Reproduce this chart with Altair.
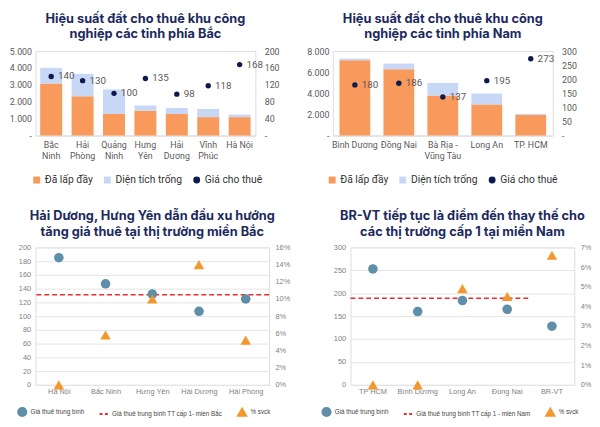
import altair as alt
import pandas as pd

# ---------------- data ----------------
north_cats = ["Bắc\nNinh", "Hải\nPhòng", "Quảng\nNinh", "Hưng\nYên", "Hải\nDương", "Vĩnh\nPhúc", "Hà Nội"]
north_filled = [3080, 2330, 1280, 1470, 1280, 1090, 1090]
north_vacant = [930, 1320, 1450, 310, 350, 480, 150]
north_price = [140, 130, 100, 135, 98, 118, 168]

south_cats = ["Bình Dương", "Đồng Nai", "Bà Rịa -\nVũng Tàu", "Long An", "TP. HCM"]
south_filled = [7130, 6290, 3790, 2950, 1960]
south_vacant = [160, 530, 1190, 1030, 100]
south_price = [180, 186, 137, 195, 273]

bar_series = ["Đã lấp đầy", "Diện tích trống", "Giá cho thuê"]

n_cats = ["Hà Nội", "Bắc Ninh", "Hưng Yên", "Hải Dương", "Hải Phòng"]
n_avg = [185, 147, 132, 107, 125]
n_pct = [0.0, 0.058, 0.10, 0.14, 0.052]
n_tier1 = 131

s_cats = ["TP HCM", "Bình Dương", "Long An", "Đồng Nai", "BR-VT"]
s_avg = [253, 160, 184, 165, 128]
s_pct = [0.0, 0.0, 0.049, 0.045, 0.066]
s_tier1 = 189
s_tier1_span = ["TP HCM", "Đồng Nai"]

# ---------------- style ----------------
ORANGE = "#F89A5C"
LBLUE = "#C7D7F6"
NAVY = "#0E1A4F"
TITLE_C = "#1C2A5E"
STEEL = "#5E8EA8"
TRI = "#F2982E"
RED = "#EE2A2A"
GRAY = "#595959"
LGRAY = "#7F7F7F"
FONT = "Inter"
LFONT = "Roboto"
AFONT = "Liberation Sans"


def title(lines, offset):
    return alt.TitleParams(lines, fontSize=13, fontWeight="bold", color=TITLE_C,
                           font=FONT, anchor="middle", lineHeight=16, offset=offset)


def top_panel(cats, filled, vacant, price, ymax, ystep, rmax, rstep, lines, w, h, lx):
    n = len(cats)
    bar_df = pd.DataFrame({
        "cat": cats * 2,
        "series": [bar_series[0]] * n + [bar_series[1]] * n,
        "value": filled + vacant,
        "ord": [0] * n + [1] * n,
    })
    dot_df = pd.DataFrame({"cat": cats, "series": bar_series[2], "price": price})
    leg = alt.Legend(orient="none", legendX=lx, legendY=h + 40, direction="horizontal", title=None,
                     labelFontSize=10.5, labelColor="#333333", labelFont=LFONT, labelOffset=3,
                     symbolSize=50, columnPadding=9)
    color = alt.Color("series:N", scale=alt.Scale(domain=bar_series, range=[ORANGE, LBLUE, NAVY]), legend=leg)
    shape = alt.Shape("series:N", scale=alt.Scale(domain=bar_series, range=["square", "square", "circle"]), legend=leg)
    x = alt.X("cat:N", sort=cats, title=None,
              scale=alt.Scale(domain=cats, paddingInner=0.3, paddingOuter=0.15),
              axis=alt.Axis(labelAngle=0, labelExpr="split(datum.label, '\\n')", labelFontSize=9,
                            labelColor=GRAY, labelFont=LFONT, ticks=False, domainColor="#D9D9D9",
                            labelPadding=5, labelLineHeight=11))
    bars = alt.Chart(bar_df).mark_bar().encode(
        x=x,
        y=alt.Y("value:Q", stack="zero", title=None,
                scale=alt.Scale(domain=[0, ymax]),
                axis=alt.Axis(values=list(range(0, ymax + 1, ystep)), grid=False, domain=False, ticks=False,
                              labelFontSize=9, labelColor=GRAY, labelFont=LFONT, labelPadding=4,
                              labelExpr="datum.value == 0 ? '-' : replace(format(datum.value, ','), ',', '.')")),
        color=color,
        order=alt.Order("ord:Q"),
    )
    yr = alt.Y("price:Q", title=None, scale=alt.Scale(domain=[0, rmax]),
               axis=alt.Axis(orient="right", values=list(range(0, rmax + 1, rstep)), grid=False, domain=False,
                             ticks=False, labelFontSize=9, labelColor=GRAY, labelFont=LFONT, labelPadding=9,
                             labelExpr="datum.value == 0 ? '-' : datum.label"))
    dots = alt.Chart(dot_df).mark_point(filled=True, size=30, opacity=1).encode(x=x, y=yr, color=color, shape=shape)
    labels = alt.Chart(dot_df).mark_text(align="left", dx=7, fontSize=10, color=GRAY, font=LFONT).encode(
        x=x, y=yr, text="price:Q")
    return alt.layer(bars, alt.layer(dots, labels)).resolve_scale(y="independent").properties(
        width=w, height=h, title=title(lines, 6))


def bottom_panel(cats, avg, pct, tier, tier_name, pmax, pstep, amax, astep, lines, w, h, lx, span=None):
    series = ["Giá thuê trung bình", tier_name, "% svck"]
    df = pd.DataFrame({"cat": cats, "avg": avg, "pct": pct})
    df["s1"] = series[0]
    df["s3"] = series[2]
    leg = alt.Legend(orient="none", legendX=lx, legendY=h + 22, direction="horizontal", title=None,
                     labelFontSize=6.4, labelColor="#444444", labelFont=AFONT, labelOffset=3,
                     symbolSize=70, symbolStrokeWidth=2, columnPadding=11)
    cscale = alt.Scale(domain=series, range=[STEEL, RED, TRI])
    sscale = alt.Scale(domain=series, range=["circle", "M-1,0L-0.3,0M0.3,0L1,0", "triangle-up"])
    xscale = alt.Scale(domain=cats, paddingInner=0, paddingOuter=0)
    xaxis = alt.Axis(labelAngle=0, labelFontSize=7.5, labelColor=LGRAY, labelFont=AFONT,
                     ticks=False, domain=False, labelPadding=3)
    x = alt.X("cat:N", title=None, scale=xscale, axis=xaxis)
    yl = alt.Y("avg:Q", title=None, scale=alt.Scale(domain=[0, amax]),
               axis=alt.Axis(values=list(range(0, amax + 1, astep)), domain=False, ticks=False,
                             gridColor="#E3E3E3", labelFontSize=7.5, labelColor=LGRAY,
                             labelFont=AFONT, labelPadding=5))
    circ = alt.Chart(df).mark_point(filled=True, size=95, opacity=1).encode(
        x=x, y=yl,
        color=alt.Color("s1:N", scale=cscale, legend=leg),
        shape=alt.Shape("s1:N", scale=sscale, legend=leg))
    rdf = pd.DataFrame({"avg": [tier], "s2": [tier_name]})
    if span is not None:
        half_band = w / len(cats) / 2
        rdf["start"] = [span[0]]
        rdf["end"] = [span[1]]
        rule = alt.Chart(rdf).mark_rule(strokeDash=[5, 3], strokeWidth=1.6,
                                        xOffset=-half_band, x2Offset=half_band).encode(
            x=alt.X("start:N", title=None, scale=xscale, axis=xaxis),
            x2=alt.X2("end:N"),
            y=yl, color=alt.Color("s2:N", scale=cscale, legend=leg))
    else:
        rule = alt.Chart(rdf).mark_rule(strokeDash=[5, 3], strokeWidth=1.6).encode(
            y=yl, color=alt.Color("s2:N", scale=cscale, legend=leg))
    tri = alt.Chart(df).mark_point(filled=True, size=115, opacity=1).encode(
        x=x,
        y=alt.Y("pct:Q", title=None, scale=alt.Scale(domain=[0, pmax]),
                axis=alt.Axis(orient="right", values=[i * pstep for i in range(int(round(pmax / pstep)) + 1)],
                              format=".0%", grid=False, domain=False, ticks=False, labelFontSize=7.5,
                              labelColor=LGRAY, labelFont=AFONT, labelPadding=6)),
        color=alt.Color("s3:N", scale=cscale, legend=leg),
        shape=alt.Shape("s3:N", scale=sscale, legend=leg))
    return alt.layer(alt.layer(rule, circ), tri).resolve_scale(y="independent").properties(
        width=w, height=h, title=title(lines, 5))


p1 = top_panel(north_cats, north_filled, north_vacant, north_price, 5000, 1000, 200, 40,
               ["Hiệu suất đất cho thuê khu công", "nghiệp các tỉnh phía Bắc"], 224, 86, -4)
p2 = top_panel(south_cats, south_filled, south_vacant, south_price, 8000, 2000, 300, 50,
               ["Hiệu suất đất cho thuê khu công", "nghiệp các tỉnh phía Nam"], 224, 86, -6)
p3 = bottom_panel(n_cats, n_avg, n_pct, n_tier1, "Giá thuê trung bình TT cấp 1- miền Bắc", 0.16, 0.02, 200, 20,
                  ["Hải Dương, Hưng Yên dẫn đầu xu hướng", "tăng giá thuê tại thị trường miền Bắc"],
                  238, 140, -19)
p4 = bottom_panel(s_cats, s_avg, s_pct, s_tier1, "Giá thuê trung bình TT cấp 1 - miền Nam", 0.07, 0.01, 300, 50,
                  ["BR-VT tiếp tục là điểm đến thay thế cho", "các thị trường cấp 1 tại miền Nam"],
                  228, 140, -30, span=s_tier1_span)

top = alt.hconcat(p1, p2, spacing=26).resolve_scale(color="independent", shape="independent").resolve_legend(
    color="independent", shape="independent")
bottom = alt.hconcat(p3, p4, spacing=30).resolve_scale(color="independent", shape="independent").resolve_legend(
    color="independent", shape="independent")
chart = alt.vconcat(top, bottom, spacing=23).resolve_scale(color="independent", shape="independent").resolve_legend(
    color="independent", shape="independent").configure_view(stroke=None).configure(
    padding=0, background="white")

chart.save("out.html", embed_options={"renderer": "svg", "actions": False})
